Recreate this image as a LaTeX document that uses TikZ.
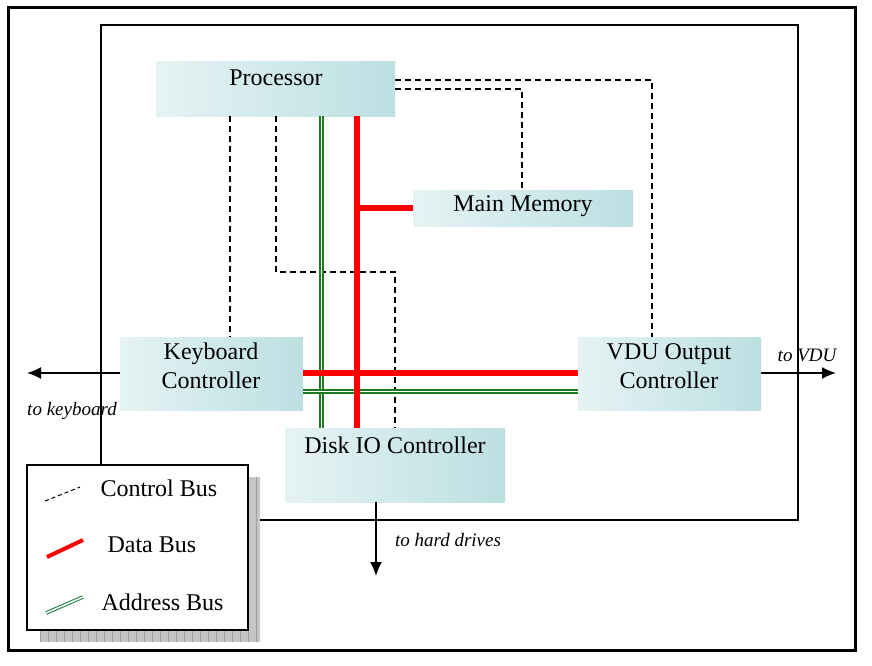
\documentclass[tikz,border=0pt]{standalone}
\usetikzlibrary{arrows.meta}
\usepackage{fontspec}
\setmainfont{Liberation Serif}
\begin{document}
\begin{tikzpicture}[x=1pt,y=-1pt,
  box/.style={inner sep=0pt, left color=boxL, right color=boxR, draw=none},
  lbl/.style={font=\fontsize{24}{29}\selectfont, align=center},
  ital/.style={font=\itshape\fontsize{19}{22}\selectfont},
  ctrl/.style={line width=1.8pt, dash pattern=on 6pt off 4pt},
  data/.style={red, line width=5.5pt},
  addr/.style={draw=addrG, line width=1.3pt, double=white, double distance=1.8pt},
  arr/.style={line width=1.6pt, -{Latex[length=14pt,width=12pt]}}]
\definecolor{boxL}{HTML}{E6F3F4}
\definecolor{boxR}{HTML}{BCDFE2}
\definecolor{addrG}{HTML}{1E7A1E}
\useasboundingbox (0,0) rectangle (872,665);
\fill[white] (0,0) rectangle (872,665);
\draw[line width=3pt] (8,7) rectangle (855,650);
\draw[line width=2.4pt] (101,25) rectangle (798,520);
% boxes
\path[box] (156,61) rectangle (395,116);
\node[lbl] (proc) at (276,78) {Processor};
\path[box] (413,190) rectangle (633,226);
\node[lbl] (mem) at (523,206) {Main Memory};
\path[box] (120,337) rectangle (303,410);
\node[lbl] (kbd) at (211,366) {Keyboard\\Controller};
\path[box] (578,337) rectangle (761,410);
\node[lbl] (vdu) at (669,366) {VDU Output\\Controller};
\path[box] (285,428) rectangle (505,502);
\node[lbl] (disk) at (395,445) {Disk IO Controller};
% control bus
\coordinate (p1) at (395,80); \coordinate (p1c) at (652,80); \coordinate (v1) at (652,337);
\draw[ctrl] (p1) -- (p1c) -- (v1);
\coordinate (p2) at (395,89); \coordinate (p2c) at (522,89); \coordinate (m1) at (522,190);
\draw[ctrl] (p2) -- (p2c) -- (m1);
\coordinate (p3) at (230,116); \coordinate (k1) at (230,337);
\draw[ctrl] (p3) -- (k1);
\coordinate (p4) at (276,116); \coordinate (c4a) at (276,272); \coordinate (c4b) at (395,272); \coordinate (d1) at (395,428);
\draw[ctrl] (p4) -- (c4a) -- (c4b) -- (d1);
% address bus
\coordinate (p5) at (321.5,116); \coordinate (d2) at (321.5,428);
\draw[addr] (p5) -- (d2);
\coordinate (k2) at (303,391.5); \coordinate (v2) at (578,391.5);
\draw[addr] (k2) -- (v2);
% data bus
\coordinate (p6) at (357,116); \coordinate (d3) at (357,428);
\draw[data] (p6) -- (d3);
\coordinate (j1) at (357,208); \coordinate (m2) at (413,208);
\draw[data] (j1) -- (m2);
\coordinate (k3) at (303,373); \coordinate (v3) at (578,373);
\draw[data] (k3) -- (v3);
% external arrows
\coordinate (k4) at (120,373); \coordinate (kx) at (27,373);
\draw[arr] (k4) -- (kx);
\node[ital] (tk) at (72,411) {to keyboard};
\coordinate (v4) at (761,373); \coordinate (vx) at (836,373);
\draw[arr] (v4) -- (vx);
\node[ital] (tv) at (807,355) {to VDU};
\coordinate (d4) at (376,502); \coordinate (dx) at (376,576);
\draw[arr] (d4) -- (dx);
\node[ital] (th) at (448,540) {to hard drives};
% legend
\fill[gray!45] (40,477) rectangle (260,642);
\draw[gray!75, line width=0.5pt, step=8] (40,477) grid (260,642);
\fill[white] (27,465) rectangle (248,630);
\draw[line width=2.4pt] (27,465) rectangle (248,630);
\coordinate (l1a) at (45,501); \coordinate (l1b) at (80,487);
\draw[line width=1pt, dash pattern=on 4pt off 3pt] (l1a) -- (l1b);
\node[lbl, anchor=west] (lc) at (97,488) {Control Bus};
\coordinate (l2a) at (47,557); \coordinate (l2b) at (83,540);
\draw[data, line width=4pt] (l2a) -- (l2b);
\node[lbl, anchor=west] (ld) at (104,545) {Data Bus};
\coordinate (l3a) at (46,613); \coordinate (l3b) at (83,597);
\draw[addr, draw=addrG!70!teal, line width=1pt, double distance=1.6pt] (l3a) -- (l3b);
\node[lbl, anchor=west] (la) at (98,602) {Address Bus};
\end{tikzpicture}
\end{document}
